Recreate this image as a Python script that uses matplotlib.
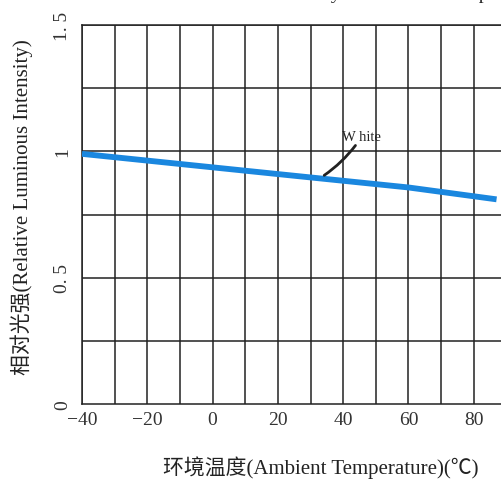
import matplotlib
matplotlib.use('Agg')
import matplotlib.pyplot as plt

# 读图所得数据
temps = [-40, 20, 60, 87]
intensity = [0.99, 0.91, 0.857, 0.81]
x_ticks = [-40, -20, 0, 20, 40, 60, 80]
x_tick_labels = ['\u221240', '\u221220', '0', '20', '40', '60', '80']
y_ticks = [0, 0.5, 1, 1.5]
y_tick_labels = ['0', '0. 5', '1', '1. 5']

FONT = ['Liberation Serif', 'Noto Sans CJK SC', 'DejaVu Sans']
plt.rcParams['font.family'] = FONT

fig = plt.figure(figsize=(5.01, 4.85), dpi=100)
W, H = 501, 485
ax = fig.add_axes([82 / W, (H - 405) / H, 457 / W, 379 / H])

ax.set_xlim(-40, 100)
ax.set_ylim(0, 1.5)

# 网格
for x in range(-40, 101, 10):
    ax.axvline(x, color='#222222', lw=1.1, zorder=1)
for y in [0.25, 0.5, 0.75, 1.0, 1.25, 1.5]:
    ax.axhline(y, color='#222222', lw=1.1, zorder=1)
for s in ax.spines.values():
    s.set_color('#222222')
    s.set_linewidth(1.1)

ax.plot(temps, intensity, color='#1a87df', lw=4.2, solid_capstyle='butt', zorder=3)

ax.annotate('W hite', xy=(34.2, 0.905), xytext=(39.8, 1.06),
            fontsize=10.5, va='center', ha='left', color='#222222',
            arrowprops=dict(arrowstyle='-', color='#222222', lw=2.0,
                            connectionstyle='arc3,rad=-0.1',
                            shrinkA=0, shrinkB=0))

ax.set_xticks(x_ticks)
ax.set_xticklabels(x_tick_labels, fontsize=14, color='#333333')
ax.set_yticks(y_ticks)
ax.set_yticklabels(y_tick_labels, fontsize=14, color='#333333',
                   rotation=90, va='center')
ax.tick_params(length=0, pad=5)
ax.tick_params(axis='y', pad=8)

fig.text(321 / W, 1 - 468 / H, '环境温度(Ambient Temperature)(℃)',
         ha='center', va='center', fontsize=15, color='#222222')
fig.text(22 / W, 1 - 207 / H, '相对光强(Relative Luminous Intensity)',
         ha='center', va='center', rotation=90, fontsize=15, color='#222222')
# 标题在原图中被裁掉，只露出下伸部分
fig.text(330 / W, 1 + 1 / H, 'Relative Luminous Intensity vs. Ambient Temperature',
         ha='center', va='baseline', fontsize=14, color='#222222')

fig.savefig('out.png', dpi=100)
